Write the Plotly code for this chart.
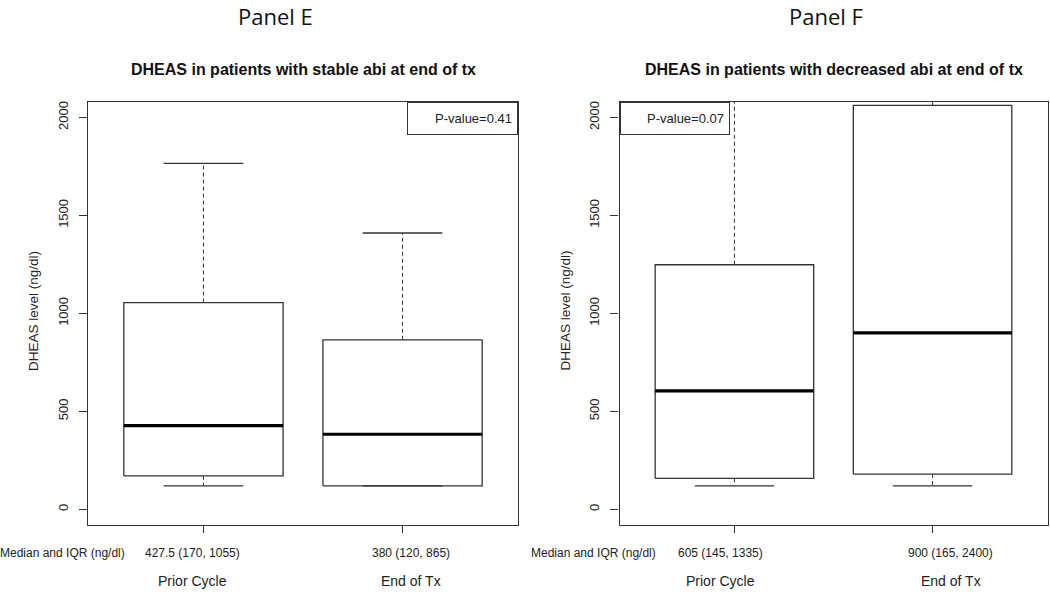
import plotly.graph_objects as go

# ---------------- data ----------------
categories = ["Prior Cycle", "End of Tx"]
panel_names = ["Panel E", "Panel F"]
panel_titles = ["DHEAS in patients with stable abi at end of tx",
                "DHEAS in patients with decreased abi at end of tx"]
p_values = ["P-value=0.41", "P-value=0.07"]

# box statistics as drawn (lower whisker, lower hinge, median, upper hinge, upper whisker)
E_low = [120, 120]
E_q1 = [171, 120]
E_med = [427, 383]
E_q3 = [1055, 865]
E_up = [1765, 1410]

F_low = [120, 120]
F_q1 = [158, 180]
F_med = [604, 900]
F_q3 = [1248, 2061]
F_up = [2900, 3100]   # whiskers run past the top of the plot

E_labels = ["427.5 (170, 1055)", "380 (120, 865)"]
F_labels = ["605 (145, 1335)", "900 (165, 2400)"]
iqr_title = "Median and IQR (ng/dl)"
y_title = "DHEAS level (ng/dl)"
y_ticks = [0, 500, 1000, 1500, 2000]
y_range = [-80, 2080]
x_range = [0.42, 2.58]

# ---------------- style ----------------
W, H = 1050, 592
FONT = "Liberation Sans, Arial, sans-serif"
LINE = "#333333"
TXT = "#222222"
BOX_HALF = 0.4
CAP_HALF = 0.2

# pixel geometry of the plot regions
px_left = [88, 619.5]
px_right = [518, 1047.5]
px_top, px_bottom = 101.7, 525
header_x = [275, 826]


def paper_x(px):
    return px / W


def paper_y(py):
    return 1 - py / H


fig = go.Figure()

panels = [
    (E_low, E_q1, E_med, E_q3, E_up, E_labels),
    (F_low, F_q1, F_med, F_q3, F_up, F_labels),
]

annotations = []
for p, (low, q1, med, q3, up, labels) in enumerate(panels):
    xa = "x" if p == 0 else "x2"
    ya = "y" if p == 0 else "y2"
    bx, by, mx, my, wx, wy, cx, cy = [], [], [], [], [], [], [], []
    for i in range(len(categories)):
        c = i + 1
        bx += [c - BOX_HALF, c + BOX_HALF, c + BOX_HALF, c - BOX_HALF, c - BOX_HALF, None]
        by += [q1[i], q1[i], q3[i], q3[i], q1[i], None]
        mx += [c - BOX_HALF, c + BOX_HALF, None]
        my += [med[i], med[i], None]
        wx += [c, c, None, c, c, None]
        wy += [q3[i], up[i], None, q1[i], low[i], None]
        cx += [c - CAP_HALF, c + CAP_HALF, None, c - CAP_HALF, c + CAP_HALF, None]
        cy += [up[i], up[i], None, low[i], low[i], None]
    fig.add_trace(go.Scatter(x=wx, y=wy, mode="lines", xaxis=xa, yaxis=ya,
                             line=dict(color=LINE, width=1, dash="4px,3px"),
                             showlegend=False, hoverinfo="skip"))
    fig.add_trace(go.Scatter(x=cx, y=cy, mode="lines", xaxis=xa, yaxis=ya,
                             line=dict(color=LINE, width=1.3),
                             showlegend=False, hoverinfo="skip"))
    fig.add_trace(go.Scatter(x=bx, y=by, mode="lines", xaxis=xa, yaxis=ya,
                             line=dict(color=LINE, width=1.3),
                             showlegend=False, hoverinfo="skip"))
    fig.add_trace(go.Scatter(x=mx, y=my, mode="lines", xaxis=xa, yaxis=ya,
                             line=dict(color="#000000", width=3.2),
                             showlegend=False, hoverinfo="skip"))

    cxp = (px_left[p] + px_right[p]) / 2
    # panel header
    annotations.append(dict(text=panel_names[p], xref="paper", yref="paper",
                            x=paper_x(header_x[p]), y=paper_y(16), xanchor="center", yanchor="middle",
                            showarrow=False, font=dict(family="Open Sans, sans-serif", size=22, color="#111")))
    # plot title
    annotations.append(dict(text="<b>" + panel_titles[p] + "</b>", xref="paper", yref="paper",
                            x=paper_x(cxp), y=paper_y(69), xanchor="center", yanchor="middle",
                            showarrow=False, font=dict(family=FONT, size=16, color="#111")))
    # y axis title
    annotations.append(dict(text=y_title, xref="paper", yref="paper", textangle=-90,
                            x=paper_x(px_left[p] - 55), y=paper_y(311), xanchor="center", yanchor="middle",
                            showarrow=False, font=dict(family=FONT, size=13.5, color=TXT)))
    # p-value legend
    if p == 0:
        annotations.append(dict(text=p_values[p], xref="paper", yref="paper",
                                x=paper_x(px_right[p]), y=paper_y(px_top), xanchor="right", yanchor="top",
                                width=99, height=21, align="right", borderpad=5, borderwidth=1,
                                bordercolor=LINE, bgcolor="white", showarrow=False,
                                font=dict(family=FONT, size=13, color=TXT)))
    else:
        annotations.append(dict(text=p_values[p], xref="paper", yref="paper",
                                x=paper_x(px_left[p]), y=paper_y(px_top), xanchor="left", yanchor="top",
                                width=98, height=21, align="right", borderpad=5, borderwidth=1,
                                bordercolor=LINE, bgcolor="white", showarrow=False,
                                font=dict(family=FONT, size=13, color=TXT)))
    # median / IQR row
    annotations.append(dict(text=iqr_title, xref="paper", yref="paper",
                            x=paper_x(px_left[p] - 26), y=paper_y(553), xanchor="center", yanchor="middle",
                            showarrow=False, font=dict(family=FONT, size=12, color=TXT)))
    shifts = [(-11, 8), (-14, 18)][p]
    for i, lab in enumerate(labels):
        annotations.append(dict(text=lab, xref=xa, yref="paper", x=i + 1, xshift=shifts[i],
                                y=paper_y(553), xanchor="center", yanchor="middle",
                                showarrow=False, font=dict(family=FONT, size=12, color=TXT)))
        annotations.append(dict(text=categories[i], xref=xa, yref="paper", x=i + 1, xshift=shifts[i],
                                y=paper_y(581), xanchor="center", yanchor="middle",
                                showarrow=False, font=dict(family=FONT, size=14, color=TXT)))

axis_common = dict(showgrid=False, zeroline=False, showline=True, mirror=True,
                   linecolor=LINE, linewidth=1.3, ticks="outside", tickcolor=LINE,
                   fixedrange=True)

fig.update_layout(
    width=W, height=H, autosize=False,
    margin=dict(l=0, r=0, t=0, b=0),
    paper_bgcolor="white", plot_bgcolor="white",
    showlegend=False,
    annotations=annotations,
    xaxis=dict(domain=[paper_x(px_left[0]), paper_x(px_right[0])], range=x_range,
               tickvals=[1, 2], showticklabels=False, ticklen=7, **axis_common),
    yaxis=dict(domain=[paper_y(px_bottom), paper_y(px_top)], range=y_range,
               tickvals=y_ticks, ticklen=8, tickangle=-90, ticklabelstandoff=6,
               tickfont=dict(family=FONT, size=13, color=TXT), **axis_common),
    xaxis2=dict(domain=[paper_x(px_left[1]), paper_x(px_right[1])], range=x_range,
                tickvals=[1, 2], showticklabels=False, ticklen=7, anchor="y2", **axis_common),
    yaxis2=dict(domain=[paper_y(px_bottom), paper_y(px_top)], range=y_range,
                tickvals=y_ticks, ticklen=8, tickangle=-90, ticklabelstandoff=6, anchor="x2",
                tickfont=dict(family=FONT, size=13, color=TXT), **axis_common),
)

fig.write_html("out.html", config={"displayModeBar": False},
               post_script="document.body.style.margin='0px';document.body.style.overflow='hidden';")
